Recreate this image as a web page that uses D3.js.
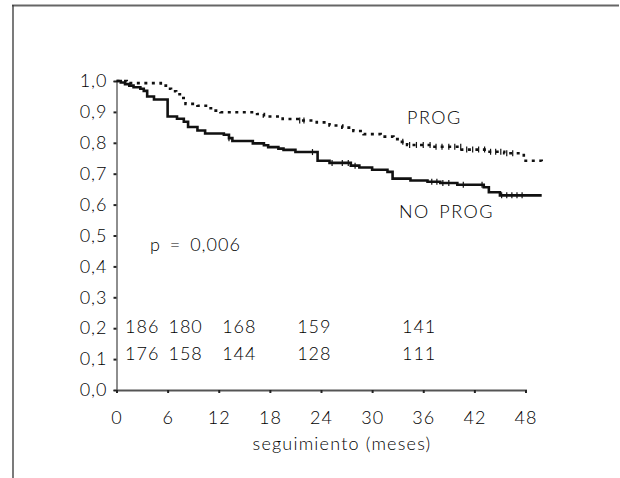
<!DOCTYPE html>
<html>
<head>
<meta charset="utf-8">
<script src="https://cdn.jsdelivr.net/npm/d3@7/dist/d3.min.js"></script>
<style>
  html, body { margin: 0; padding: 0; background: #fff; }
  svg text { font-family: Lato, "Open Sans", sans-serif; font-weight: 300; fill: #000; }
</style>
</head>
<body>
<svg id="chart" width="620" height="478"></svg>
<script>
// ---- data ----
const xTicks = [0, 6, 12, 18, 24, 30, 36, 42, 48];
const yTicks = [0, 0.1, 0.2, 0.3, 0.4, 0.5, 0.6, 0.7, 0.8, 0.9, 1.0];
const xLabel = "seguimiento (meses)";
const pValueText = "p = 0,006";

// PROG group (dotted) : [month, survival]
const progSteps = [
  [0, 1.0], [1.2, 0.993], [5.2, 0.985], [5.8, 0.975], [6.4, 0.967], [7.0, 0.957],
  [7.6, 0.945], [8.1, 0.926], [9.5, 0.92], [10.5, 0.912], [11.4, 0.904], [12.2, 0.899],
  [16.5, 0.893], [17.3, 0.885], [19.5, 0.877], [21.5, 0.872], [23.5, 0.866],
  [25.0, 0.856], [26.5, 0.849], [27.8, 0.838], [29.0, 0.828], [31.0, 0.82],
  [32.5, 0.812], [33.3, 0.803], [34.1, 0.793], [37.0, 0.787], [40.5, 0.778],
  [43.5, 0.771], [45.5, 0.766], [47.8, 0.742], [49.9, 0.739]
];
// NO PROG group (solid)
const noProgSteps = [
  [0, 1.0], [0.5, 0.995], [1.0, 0.99], [1.5, 0.985], [2.0, 0.98], [2.8, 0.975],
  [3.2, 0.968], [3.6, 0.95], [4.4, 0.94], [6.0, 0.885], [7.1, 0.878], [7.9, 0.868],
  [8.4, 0.851], [9.5, 0.84], [10.4, 0.83], [12.6, 0.826], [13.2, 0.815], [13.6, 0.806],
  [16.0, 0.798], [17.3, 0.792], [17.8, 0.786], [19.0, 0.781], [19.6, 0.777],
  [21.0, 0.77], [23.6, 0.742], [25.0, 0.735], [27.5, 0.726], [28.5, 0.72],
  [30.0, 0.713], [31.8, 0.706], [32.4, 0.684], [34.5, 0.678], [36.5, 0.674],
  [38.0, 0.67], [40.0, 0.664], [43.1, 0.656], [43.7, 0.64], [45.0, 0.63], [49.9, 0.63]
];
const progCensored = [21.5, 22.0, 33.6, 34.4, 35.2, 36.0, 36.8, 37.5, 38.2, 39.0,
  39.7, 40.4, 41.1, 41.8, 42.5, 43.2, 43.9, 44.5, 45.1, 45.8, 46.5];
const noProgCensored = [13.2, 23.0, 25.3, 26.5, 27.2, 28.0, 37.0, 37.6, 38.3, 39.0,
  40.7, 42.9, 45.2, 45.8, 46.4, 47.0, 47.6];

// numbers at risk
const atRiskProg = ["186", "180", "168", "159", "141"];
const atRiskNoProg = ["176", "158", "144", "128", "111"];
const atRiskMonths = [1.0, 6.1, 12.4, 21.2, 33.5];

// ---- layout ----
const svg = d3.select("#chart");
const x = d3.scaleLinear().domain([0, 48]).range([116.5, 525.5]);
const y = d3.scaleLinear().domain([0, 1]).range([390, 81]);
const fmt = d => d3.format(".1f")(d).replace(".", ",");
const FS = 18;

// frame (top and left edges)
svg.append("line").attr("x1", 12).attr("x2", 619).attr("y1", 5.5).attr("y2", 5.5)
  .attr("stroke", "#666").attr("stroke-width", 2);
svg.append("line").attr("x1", 13).attr("x2", 13).attr("y1", 5).attr("y2", 478)
  .attr("stroke", "#333").attr("stroke-width", 1.3);

// y axis
const yAxis = svg.append("g").attr("transform", `translate(${x(0)},0)`)
  .call(d3.axisLeft(y).tickValues(yTicks).tickFormat(fmt).tickSize(3).tickPadding(6));
yAxis.select(".domain").attr("stroke", "#444").attr("stroke-width", 1.2);
yAxis.selectAll(".tick line").attr("stroke", "#222").attr("stroke-width", 2);
yAxis.selectAll(".tick text").attr("font-size", FS).attr("fill", "#000")
  .attr("font-family", "Lato, 'Open Sans', sans-serif").attr("letter-spacing", 1);

// x axis
const xAxis = svg.append("g").attr("transform", `translate(0,${y(0)})`)
  .call(d3.axisBottom(x).tickValues(xTicks).tickSize(3).tickPadding(18));
xAxis.select(".domain").attr("stroke", "#555").attr("stroke-width", 2);
xAxis.selectAll(".tick line").attr("stroke", "#222").attr("stroke-width", 2);
xAxis.selectAll(".tick text").attr("font-size", FS).attr("fill", "#000")
  .attr("font-family", "Lato, 'Open Sans', sans-serif").attr("letter-spacing", 1);

svg.append("text").attr("x", x(24) + 21).attr("y", 450).attr("text-anchor", "middle")
  .attr("font-size", FS).attr("letter-spacing", 1.2).text(xLabel);

// curves
const line = d3.line().x(d => x(d[0])).y(d => y(d[1])).curve(d3.curveStepAfter);
svg.append("path").datum(noProgSteps).attr("d", line)
  .attr("fill", "none").attr("stroke", "#111").attr("stroke-width", 2.6);
svg.append("path").datum(progSteps).attr("d", line)
  .attr("fill", "none").attr("stroke", "#111").attr("stroke-width", 2.6)
  .attr("stroke-dasharray", "3,4.5");

// censor marks
function survAt(steps, t) {
  let v = steps[0][1];
  for (const s of steps) { if (s[0] <= t) v = s[1]; else break; }
  return v;
}
function censor(steps, times) {
  svg.append("g").selectAll("line").data(times).join("line")
    .attr("x1", d => x(d)).attr("x2", d => x(d))
    .attr("y1", d => y(survAt(steps, d)) - 3).attr("y2", d => y(survAt(steps, d)) + 3)
    .attr("stroke", "#111").attr("stroke-width", 1.2);
}
censor(progSteps, progCensored);
censor(noProgSteps, noProgCensored);

// labels
svg.append("text").attr("x", 407).attr("y", 124).attr("font-size", FS)
  .attr("letter-spacing", 1.5).text("PROG");
svg.append("text").attr("x", 399).attr("y", 218).attr("font-size", FS)
  .attr("letter-spacing", 1.5).attr("word-spacing", 3).text("NO PROG");
svg.append("text").attr("x", 150).attr("y", 251).attr("font-size", FS)
  .attr("letter-spacing", 1).attr("word-spacing", 3).text(pValueText);

// numbers at risk
svg.append("g").selectAll("text").data(atRiskProg).join("text")
  .attr("x", (d, i) => x(atRiskMonths[i])).attr("y", 333)
  .attr("font-size", FS).attr("letter-spacing", 1).text(d => d);
svg.append("g").selectAll("text").data(atRiskNoProg).join("text")
  .attr("x", (d, i) => x(atRiskMonths[i])).attr("y", 360)
  .attr("font-size", FS).attr("letter-spacing", 1).text(d => d);
</script>
</body>
</html>
